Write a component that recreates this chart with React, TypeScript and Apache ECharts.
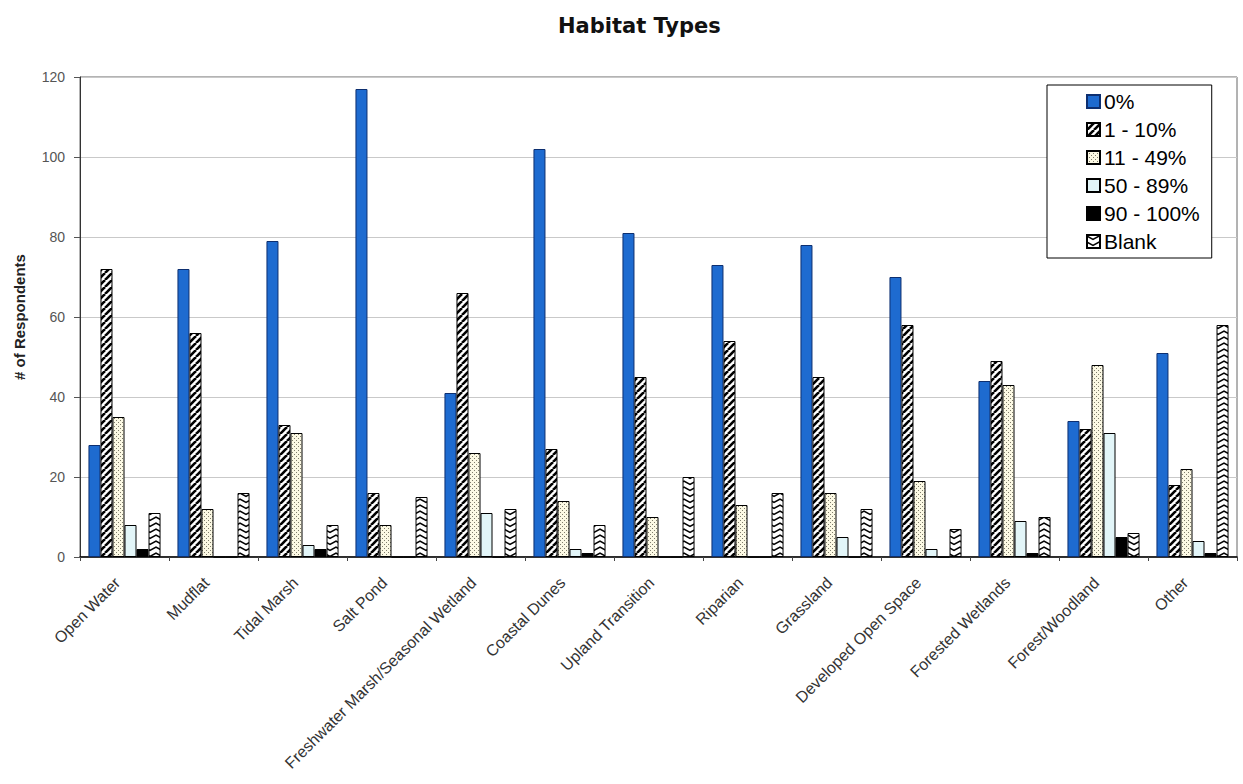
import React, { useEffect, useRef } from 'react';
import * as echarts from 'echarts';

// Habitat categories along the x axis
const categories = [
  'Open Water',
  'Mudflat',
  'Tidal Marsh',
  'Salt Pond',
  'Freshwater Marsh/Seasonal Wetland',
  'Coastal Dunes',
  'Upland Transition',
  'Riparian',
  'Grassland',
  'Developed Open Space',
  'Forested Wetlands',
  'Forest/Woodland',
  'Other',
];

const seriesNames = ['0%', '1 - 10%', '11 - 49%', '50 - 89%', '90 - 100%', 'Blank'];

// Respondent counts per coverage class
const pct0 = [28, 72, 79, 117, 41, 102, 81, 73, 78, 70, 44, 34, 51];
const pct1to10 = [72, 56, 33, 16, 66, 27, 45, 54, 45, 58, 49, 32, 18];
const pct11to49 = [35, 12, 31, 8, 26, 14, 10, 13, 16, 19, 43, 48, 22];
const pct50to89 = [8, 0, 3, 0, 11, 2, 0, 0, 5, 2, 9, 31, 4];
const pct90to100 = [2, 0, 2, 0, 0, 1, 0, 0, 0, 0, 1, 5, 1];
const blank = [11, 16, 8, 15, 12, 8, 20, 16, 12, 7, 10, 6, 58];

const yTicks = { min: 0, max: 120, interval: 20 };

function makeTile(w: number, h: number, draw: (ctx: CanvasRenderingContext2D) => void) {
  const c = document.createElement('canvas');
  c.width = w;
  c.height = h;
  const ctx = c.getContext('2d')!;
  draw(ctx);
  return c;
}

// Black diagonal hatching on white
function stripeTile() {
  return makeTile(7, 7, (ctx) => {
    ctx.fillStyle = '#ffffff';
    ctx.fillRect(0, 0, 7, 7);
    ctx.strokeStyle = '#000000';
    ctx.lineWidth = 2.6;
    for (const k of [-7, 0, 7]) {
      ctx.beginPath();
      ctx.moveTo(k, 7);
      ctx.lineTo(k + 7, 0);
      ctx.stroke();
    }
  });
}

// Fine grey dots on pale cream
function dotTile() {
  return makeTile(4, 4, (ctx) => {
    ctx.fillStyle = '#fcf9e4';
    ctx.fillRect(0, 0, 4, 4);
    ctx.fillStyle = '#7f7c6c';
    ctx.fillRect(0, 0, 1, 1);
    ctx.fillRect(2, 2, 1, 1);
  });
}

// Stacked downward chevrons
function chevronTile() {
  return makeTile(12, 6, (ctx) => {
    ctx.fillStyle = '#ffffff';
    ctx.fillRect(0, 0, 12, 6);
    ctx.strokeStyle = '#000000';
    ctx.lineWidth = 1.5;
    for (const k of [-6, 0, 6]) {
      ctx.beginPath();
      ctx.moveTo(-1, k + 0.5);
      ctx.lineTo(6, k + 4.5);
      ctx.lineTo(13, k + 0.5);
      ctx.stroke();
    }
  });
}

export default function App() {
  const ref = useRef<HTMLDivElement>(null);

  useEffect(() => {
    document.body.style.margin = '0';
    const chart = echarts.init(ref.current!, null, { renderer: 'svg' });

    const stripes = stripeTile();
    const dots = dotTile();
    const chevrons = chevronTile();

    const border = { borderColor: '#000000', borderWidth: 1 };
    const styles = [
      { color: '#1e6bd0', borderColor: '#0d2f70', borderWidth: 1 },
      { color: { image: stripes, repeat: 'repeat' }, ...border },
      { color: { image: dots, repeat: 'repeat' }, ...border },
      { color: '#e2f5f8', ...border },
      { color: '#000000', ...border },
      { color: { image: chevrons, repeat: 'repeat' }, ...border },
    ];
    const values = [pct0, pct1to10, pct11to49, pct50to89, pct90to100, blank];

    const labelFont = 'Liberation Sans, Arial, Helvetica, sans-serif';

    chart.setOption({
      animation: false,
      backgroundColor: '#ffffff',
      title: {
        text: 'Habitat Types',
        left: 553,
        top: 10,
        textStyle: {
          fontFamily: 'DejaVu Sans, Verdana, sans-serif',
          fontSize: 21,
          fontWeight: 'bold',
          color: '#111111',
        },
      },
      legend: {
        orient: 'vertical',
        left: 1047,
        top: 85,
        padding: [6, 12, 6, 39],
        itemGap: 7,
        itemWidth: 13,
        itemHeight: 13,
        icon: 'rect',
        borderColor: '#000000',
        borderWidth: 1,
        backgroundColor: '#ffffff',
        textStyle: { fontFamily: labelFont, fontSize: 21, color: '#000000', padding: [0, 0, 0, -1] },
        data: seriesNames,
      },
      grid: {
        left: 80,
        right: 6,
        top: 77,
        bottom: 227,
        show: true,
        borderColor: '#666666',
        borderWidth: 1,
      },
      xAxis: {
        type: 'category',
        data: categories,
        axisLine: { lineStyle: { color: '#000000', width: 1.5 } },
        axisTick: { show: true, length: 4, lineStyle: { color: '#444444' } },
        axisLabel: {
          interval: 0,
          rotate: 45,
          margin: 16,
          padding: [0, 10, 0, 0],
          fontFamily: labelFont,
          fontSize: 16,
          color: '#333333',
        },
      },
      yAxis: {
        type: 'value',
        min: yTicks.min,
        max: yTicks.max,
        interval: yTicks.interval,
        name: '# of Respondents',
        nameLocation: 'middle',
        nameGap: 53,
        nameTextStyle: { fontFamily: labelFont, fontSize: 15, fontWeight: 'bold', color: '#222222' },
        axisLine: { show: true, lineStyle: { color: '#333333' } },
        axisTick: { show: true, length: 6, lineStyle: { color: '#555555' } },
        axisLabel: { margin: 15, fontFamily: labelFont, fontSize: 14, color: '#555555' },
        splitLine: { lineStyle: { color: '#c9c9c9', width: 1 } },
      },
      series: seriesNames.map((name, i) => ({
        name,
        type: 'bar',
        data: values[i],
        barGap: '0%',
        barCategoryGap: '19%',
        itemStyle: styles[i],
      })),
    });

    // Anchor each chevron fill to its own bar so the V shapes span the bar width
    try {
      const data = (chart as any).getModel().getSeriesByIndex(5).getData();
      const items = blank.map((v, i) => {
        const l = data.getItemLayout(i);
        return {
          value: v,
          itemStyle: { color: { image: chevrons, repeat: 'repeat', x: l ? l.x : 0, y: 0 } },
        };
      });
      chart.setOption({ series: [{}, {}, {}, {}, {}, { data: items }] });
    } catch (e) {
      // keep the shared pattern if layout is unavailable
    }

    return () => chart.dispose();
  }, []);

  return <div ref={ref} style={{ width: 1243, height: 784 }} />;
}
